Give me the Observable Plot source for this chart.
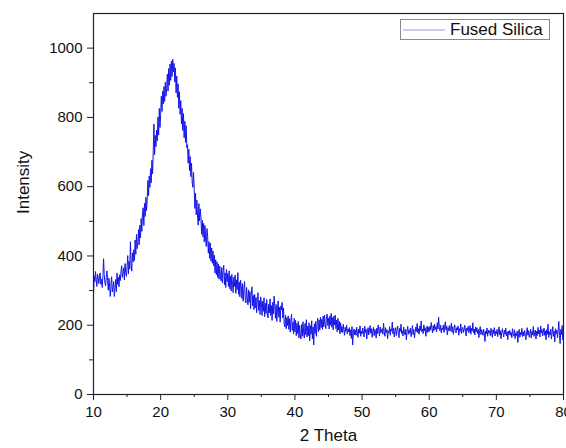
<!DOCTYPE html>
<html>
<head>
<meta charset="utf-8">
<script src="https://cdn.jsdelivr.net/npm/d3@7"></script>
<script src="https://cdn.jsdelivr.net/npm/@observablehq/plot@0.6"></script>
<style>
  html, body { margin: 0; padding: 0; background: #fff; }
  #wrap { position: relative; width: 566px; height: 448px; font-family: "Liberation Sans", Arial, sans-serif; }
  #legend { position: absolute; left: 400px; top: 19px; width: 150px; height: 21px; border: 1px solid #8a8a8a; background: #fff; display: flex; align-items: center; box-sizing: border-box; }
  #legend span { font-size: 17px; color: #111; margin-left: 5px; line-height: 1; }
</style>
</head>
<body>
<div id="wrap"><div id="legend"><svg width="44" height="10"><line x1="2" y1="5" x2="44" y2="5" stroke="#9a9ae0" stroke-width="1.2"/></svg><span>Fused Silica</span></div></div>
<script>
const seriesName = "Fused Silica";
const xLabel = "2 Theta";
const yLabel = "Intensity";
const twoThetaStart = 10;
const twoThetaStep = 0.1;
const xTicks = [10, 20, 30, 40, 50, 60, 70, 80];
const xMinorTicks = [15, 25, 35, 45, 55, 65, 75];
const yTicks = [0, 200, 400, 600, 800, 1000];
const yMinorTicks = [100, 300, 500, 700, 900];
const intensity = [
288,342,326,355,331,312,348,337,320,344,
351,318,333,309,340,392,346,322,314,338,
357,329,301,336,312,283,318,340,296,309,
326,283,305,332,297,351,318,338,311,346,
329,357,372,338,349,366,331,378,352,341,
372,401,348,385,362,441,378,356,409,383,
418,387,446,405,462,421,438,476,432,489,
452,508,471,525,539,488,552,514,569,531,
562,618,574,631,598,652,611,676,637,705,
781,692,748,716,763,732,801,749,826,771,
808,861,817,876,839,889,846,902,861,884,
925,876,941,893,954,907,962,918,968,931,
956,902,943,871,919,858,897,826,874,809,
848,781,826,762,811,741,789,728,776,712,
721,668,708,646,687,629,668,612,598,641,
592,537,581,519,561,512,489,551,501,536,
512,463,503,455,494,441,488,449,427,479,
456,408,441,393,437,385,423,379,414,371,
402,351,389,346,383,338,376,333,371,344,
328,367,322,358,373,317,351,309,361,326,
349,312,357,305,342,299,347,318,294,339,
312,345,292,331,303,352,289,325,282,330,
314,277,320,269,306,326,275,264,309,279,
259,302,266,297,248,291,311,256,286,245,
289,250,280,236,276,294,243,271,231,282,
264,228,270,240,279,225,263,234,274,230,
221,261,236,276,228,257,214,266,233,284,
254,220,260,211,247,270,223,252,209,256,
244,266,221,250,204,195,229,190,222,199,
227,188,219,180,215,232,185,209,175,220,
181,214,170,205,176,211,163,200,172,160,
202,168,210,177,163,205,173,216,166,197,
170,207,155,199,174,213,161,195,143,204,
176,211,168,206,220,181,215,186,223,193,
217,188,226,195,229,203,190,224,232,199,
221,189,227,200,234,194,222,187,226,201,
229,190,215,181,220,186,211,175,207,180,
196,179,203,186,171,194,182,200,175,189,
181,193,170,187,162,196,143,178,189,172,
186,171,194,178,165,189,177,198,168,183,
175,192,181,166,197,179,188,160,184,193,
172,186,199,177,190,165,183,194,170,188,
181,163,192,176,201,184,169,195,178,186,
190,174,206,182,168,193,179,187,161,184,
178,196,171,189,183,209,175,192,166,185,
193,170,186,198,177,164,191,182,203,176,
184,169,195,180,172,188,158,183,197,174,
186,177,192,167,181,199,173,188,163,179,
195,182,205,178,190,174,198,185,212,181,
189,176,201,184,193,168,187,198,179,194,
182,197,186,208,191,178,199,184,203,188,
196,181,207,189,223,194,184,200,178,192,
187,201,179,195,210,186,198,172,193,184,
199,183,191,206,180,196,174,189,201,185,
178,193,186,198,171,190,182,204,176,188,
194,179,187,200,182,169,192,185,197,178,
186,199,174,191,183,207,178,189,172,195,
181,193,176,188,164,185,196,173,187,180,
171,189,178,153,183,175,192,168,186,177,
184,170,191,179,165,187,176,193,169,182,
175,188,167,181,195,172,184,161,179,190,
177,166,186,174,192,169,181,158,183,173,
185,171,179,164,190,176,168,187,161,178,
170,183,150,176,188,165,179,172,191,167,
181,169,185,174,158,180,193,171,184,165,
176,189,163,182,172,196,168,179,186,160,
183,170,194,175,186,166,198,177,188,169,
179,192,171,184,158,187,174,203,165,181,
172,189,160,178,196,168,183,152,190,175,
186,164,181,211,170,147,188,173,199,158,
175
];

const data = intensity.map((v, i) => ({t: +(twoThetaStart + i * twoThetaStep).toFixed(2), v}));

const plot = Plot.plot({
  width: 566,
  height: 448,
  marginLeft: 93,
  marginRight: 3,
  marginTop: 13,
  marginBottom: 54,
  style: {fontFamily: "'Liberation Sans', Arial, sans-serif", fontSize: "15px", color: "#111", background: "#fff"},
  x: {domain: [10, 80]},
  y: {domain: [0, 1100]},
  marks: [
    Plot.line(data, {x: "t", y: "v", stroke: "#1414e6", strokeWidth: 1}),
    Plot.frame({stroke: "#222", strokeWidth: 1.2}),
    Plot.axisX({ticks: xTicks, tickSize: 6, tickPadding: 6, tickFormat: "d", label: null, fontSize: 15, stroke: "#222"}),
    Plot.axisX({ticks: xMinorTicks, tickSize: 3, text: null, label: null, stroke: "#222"}),
    Plot.axisY({ticks: yTicks, tickSize: 6, tickPadding: 5, tickFormat: "d", label: null, fontSize: 15, stroke: "#222"}),
    Plot.axisY({ticks: yMinorTicks, tickSize: 4, text: null, label: null, stroke: "#222"}),
    Plot.text([xLabel], {frameAnchor: "bottom", dy: 46, fontSize: 17, fill: "#111"}),
    Plot.text([yLabel], {frameAnchor: "left", dx: -70, dy: 10, rotate: -90, fontSize: 17, fill: "#111"})
  ]
});
document.getElementById("wrap").prepend(plot);
document.querySelector("#legend span").textContent = seriesName;
</script>
</body>
</html>
